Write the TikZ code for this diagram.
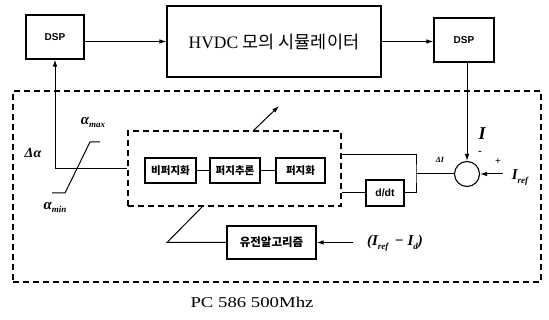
\documentclass[tikz,border=0pt]{standalone}
\usepackage{fontspec}
\setmainfont{Liberation Serif}
\setsansfont{Liberation Sans}
\newfontfamily\kr{Noto Sans CJK KR}
\usetikzlibrary{arrows.meta,calc}
% lowered small index for bold italic symbols
\newcommand\lowidx[2]{\raisebox{-#1}{\fontsize{9}{10}\selectfont #2}}
\begin{document}
\begin{tikzpicture}[x=1pt,y=-1pt,
  line width=1pt,
  box/.style={draw,line width=1.1pt,rectangle,inner sep=0pt,anchor=center},
  fzbox/.style={box,font=\kr\bfseries\fontsize{10.5}{12}\selectfont},
  dbox/.style={draw,line width=1.5pt,dash pattern=on 6pt off 4pt,rectangle,inner sep=0pt},
  arr/.style={-{Latex[length=7pt,width=4.5pt]}},
  lbl/.style={inner sep=0pt,font=\bfseries\itshape\fontsize{15}{18}\selectfont}]
\useasboundingbox (0,0) rectangle (549,320);

% top chain
\node[box,minimum width=58,minimum height=44,font=\sffamily\bfseries\fontsize{10}{12}\selectfont] (dspL) at (55,37) {DSP};
\node[box,minimum width=214,minimum height=71,font=\fontsize{17.5}{20}\selectfont] (hvdc) at (274,41.5) {HVDC {\kr 모의 시뮬레이터}};
\node[box,minimum width=60,minimum height=44,font=\sffamily\bfseries\fontsize{10}{12}\selectfont] (dspR) at (464,40) {DSP};
\draw[arr] (dspL.east |- hvdc.west) -- (hvdc.west);
\draw[arr] (hvdc.east) -- (dspR.west |- hvdc.east);

% PC frame
\node[dbox,minimum width=528,minimum height=191] (pc) at (277,186.5) {};
% fuzzy controller frame
\node[dbox,minimum width=213,minimum height=75] (fz) at (234.5,168.5) {};

\node[fzbox,minimum width=51,minimum height=25] (b1) at (170.5,170.5) {비퍼지화};
\node[fzbox,minimum width=50,minimum height=25] (b2) at (235,170.5) {퍼지추론};
\node[fzbox,minimum width=49,minimum height=25] (b3) at (300.5,170.5) {퍼지화};
\draw (b1.east) -- (b2.west);
\draw (b2.east) -- (b3.west);

\node[box,minimum width=38,minimum height=26,font=\sffamily\bfseries\fontsize{10.5}{12}\selectfont] (ddt) at (385,193) {d/dt};
\node[fzbox,minimum width=89,minimum height=33,font=\kr\bfseries\fontsize{11.5}{12}\selectfont] (ga) at (271.5,242.5) {유전알고리즘};
\node[draw,circle,line width=1.1pt,minimum size=25,inner sep=0pt] (sum) at (467,174) {};

% error path
\coordinate (j) at (416,174);
\coordinate (jt) at (416,155);
\draw (sum.west) -- (j);
\draw (fz.east |- jt) -- (jt) -- (j) |- (ddt.east);
\draw (fz.east |- ddt.west) -- (ddt.west);
\draw[arr] (dspR.south -| sum.north) -- (sum.north);
\coordinate (iref) at (503,174);
\draw[arr] (iref) -- (sum.east);

% output to DSP
\draw[arr] (fz.west) -| (dspL.south);

% limiter characteristic
\draw (52,193) -- (65,193) -- (90,142) -- (100,142);

% genetic tuning
\coordinate (gin) at (353,242.5);
\draw[arr] (gin) -- (ga.east);
\coordinate (gk) at (167,242.5);
\draw (ga.west) -- (gk) -- (203,206);
\coordinate (tu0) at (253,131);
\coordinate (tu1) at (279,106);
\draw[arr] (tu0) -- (tu1);

% labels
\node[lbl,font=\bfseries\itshape\fontsize{18}{20}\selectfont] (lI) at (482,134) {I};
\node[lbl,font=\bfseries\fontsize{11}{12}\selectfont] (lm) at (480,153) {-};
\node[lbl,font=\bfseries\fontsize{10}{12}\selectfont] (lp) at (498,162) {+};
\node[lbl] (lref) at (520,178) {I\lowidx{4pt}{ref}};
\node[lbl,font=\bfseries\itshape\fontsize{8}{10}\selectfont] (ldi) at (440,160) {ΔI};
\node[lbl,font=\bfseries\itshape\fontsize{14}{16}\selectfont] (lda) at (33,153) {Δα};
\node[lbl] (lmax) at (93,123) {α\lowidx{3pt}{max}};
\node[lbl] (lmin) at (55,207) {α\lowidx{3pt}{min}};
\node[lbl] (lerr) at (395,243) {(I\lowidx{4pt}{ref}\, − I\lowidx{4pt}{d})};
\node[inner sep=0pt,font=\fontsize{15}{16}\selectfont] (lpc) at (252,302) {\scalebox{1.25}[1]{PC 586 500Mhz}};
\end{tikzpicture}
\end{document}
